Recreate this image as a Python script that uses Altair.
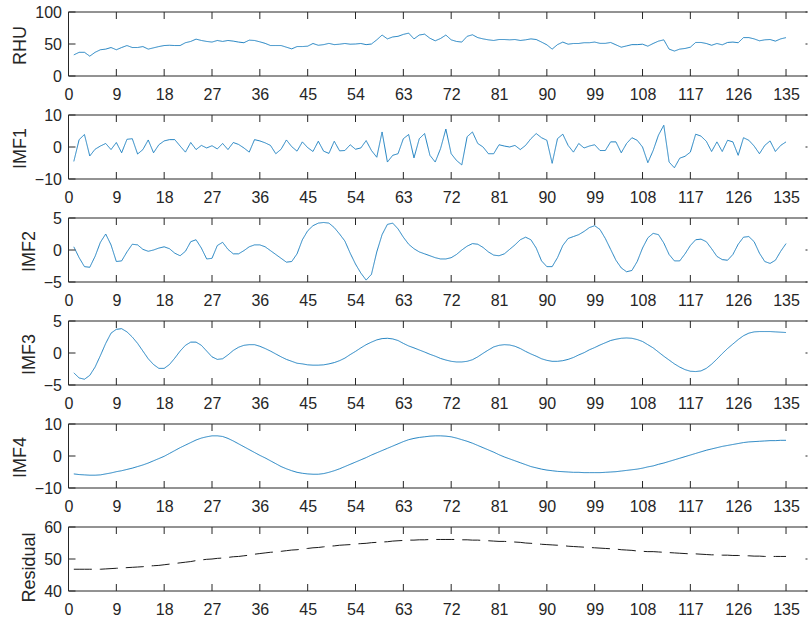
import altair as alt
import pandas as pd

t = list(range(1, 136))

rhu = [33, 37, 37, 31, 37, 41, 42, 44.5, 41, 44.5, 47.6, 44.5, 44.5, 46, 42, 44, 46, 47.6, 48, 47.6,
       47.6, 52, 54, 57.6, 55.5, 54, 53, 55.5, 54, 55.5, 54.5, 53, 52, 56, 55.5, 53.4, 51, 47.6, 47.6, 47.6,
       45, 42.4, 46, 46, 46.6, 50.8, 48, 49, 51, 49, 49.7, 50.8, 49.7, 50, 50.8, 49, 50, 56.5, 64, 58,
       61, 62, 65, 67, 58, 64, 65.4, 59, 55, 58.6, 64, 56.5, 54, 53, 62, 64.4, 60, 58, 56.5, 55.5,
       57, 57, 56.5, 57, 55.5, 56.5, 58, 57, 53, 48.7, 42, 49, 53, 49.7, 50.8, 50.8, 52, 52, 53, 51,
       51, 52.4, 48.7, 45, 47, 49, 49, 49.7, 46.6, 50.8, 54.5, 56.5, 42, 39, 42, 43, 45, 52.4, 52.4, 50.8,
       48, 50.8, 48.7, 52.4, 53, 52, 60, 60, 58, 55, 56.5, 57, 54.5, 58, 60]

imf1 = [-4.5, 2.3, 3.9, -2.8, -0.7, 0.3, 1.1, -0.8, 1.4, -1.8, 2.4, 2.6, -2.2, -0.8, 2.2, -1.8, 0.7, 1.9, 2.3, 2.3,
        0.3, -1.6, 1.4, -0.8, 0.5, -0.3, 0.4, -0.6, 1.1, -0.8, 1.4, 0.8, -0.3, -1.6, 2.3, 1.9, 1.3, 0.5, -2.1, -0.7,
        2.2, 0.1, -1.3, 1.6, -0.2, -1.4, 1.8, -1.3, -2.0, 1.8, -1.2, -1.1, 0.7, -0.7, -0.3, 2.0, -1.1, -3.2, 4.7, -4.7,
        -2.6, -2.1, 2.6, 3.9, -3.4, 2.6, 4.2, -2.6, -4.7, -0.5, 5.6, -2.1, -4.2, -5.6, 3.2, 4.7, 1.1, 0.0, -2.1, -2.1,
        0.7, 0.3, 0.0, 0.5, -0.8, 0.5, 2.6, 4.2, 2.9, 2.1, -5.1, 2.6, 4.0, 0.5, -1.6, 1.1, -0.3, 0.3, 0.7, -1.1,
        -1.1, 1.6, 1.6, -1.8, 1.1, 2.9, 2.1, 0.0, -4.9, -1.1, 3.7, 6.8, -4.7, -6.5, -3.5, -2.9, -1.6, 4.0, 3.4, 1.8,
        -1.4, 1.6, -1.4, 2.1, 1.6, -2.6, 2.9, 2.1, 0.3, -2.1, 0.5, 1.9, -1.4, 0.5, 1.6]

imf2 = [0.5, -1.2, -2.6, -2.7, -1.0, 1.2, 2.5, 0.8, -1.8, -1.7, -0.3, 0.9, 0.8, 0.1, -0.2, 0.0, 0.3, 0.5, 0.2, -0.5,
        -0.9, -0.2, 1.3, 1.6, 0.3, -1.4, -1.3, 0.7, 1.2, 0.1, -0.6, -0.6, -0.1, 0.5, 0.8, 0.8, 0.5, -0.1, -0.7, -1.3,
        -1.9, -1.8, -0.6, 1.6, 3.0, 3.8, 4.2, 4.3, 4.2, 3.5, 2.5, 1.4, -0.5, -2.2, -3.6, -4.7, -3.8, -0.3, 2.4, 4.0,
        4.2, 3.3, 2.0, 0.9, 0.2, -0.3, -0.6, -0.9, -1.2, -1.4, -1.4, -1.2, -0.7, 0.0, 0.6, 1.0, 0.9, 0.4, -0.3, -0.8,
        -0.9, -0.6, 0.1, 0.8, 1.6, 2.0, 1.6, 0.3, -1.7, -2.6, -2.6, -1.2, 0.7, 1.8, 2.1, 2.4, 2.9, 3.5, 3.8, 3.2,
        1.8, 0.1, -1.6, -2.8, -3.4, -3.2, -1.8, 0.3, 1.9, 2.6, 2.4, 1.1, -0.7, -1.7, -1.7, -0.6, 0.7, 1.6, 1.7, 1.3,
        0.2, -1.0, -1.5, -1.6, -0.7, 0.9, 2.0, 2.1, 1.3, -0.5, -1.8, -2.1, -1.6, -0.2, 1.0]

imf3 = [-3.1, -3.9, -4.1, -3.5, -2.2, -0.4, 1.5, 3.1, 3.7, 3.8, 3.3, 2.5, 1.5, 0.3, -0.9, -1.8, -2.4, -2.4, -1.8, -0.8,
        0.3, 1.2, 1.7, 1.7, 1.2, 0.3, -0.6, -1.0, -0.9, -0.3, 0.4, 0.9, 1.2, 1.3, 1.3, 1.05, 0.7, 0.3, -0.15, -0.6,
        -1.0, -1.3, -1.6, -1.7, -1.85, -1.9, -1.9, -1.85, -1.7, -1.5, -1.2, -0.8, -0.25, 0.25, 0.8, 1.3, 1.7, 2.05, 2.25, 2.3,
        2.2, 1.95, 1.5, 1.1, 0.8, 0.47, 0.15, -0.2, -0.5, -0.85, -1.1, -1.3, -1.4, -1.4, -1.3, -1.05, -0.6, -0.05, 0.47, 0.95,
        1.2, 1.3, 1.25, 1.05, 0.7, 0.25, -0.15, -0.5, -0.9, -1.15, -1.3, -1.3, -1.2, -1.0, -0.7, -0.3, 0.05, 0.5, 0.85, 1.25,
        1.6, 1.95, 2.15, 2.3, 2.35, 2.3, 2.1, 1.8, 1.3, 0.8, 0.15, -0.5, -1.1, -1.7, -2.2, -2.6, -2.85, -2.9, -2.8, -2.4,
        -1.75, -0.95, -0.1, 0.7, 1.4, 2.1, 2.7, 3.1, 3.3, 3.35, 3.35, 3.35, 3.3, 3.25, 3.2]

imf4 = [-5.6, -5.8, -5.9, -6.0, -6.0, -5.9, -5.6, -5.3, -4.9, -4.6, -4.2, -3.8, -3.3, -2.8, -2.2, -1.5, -0.8, -0.1, 0.8, 1.7,
        2.6, 3.4, 4.2, 5.0, 5.6, 6.0, 6.3, 6.3, 6.1, 5.5, 4.7, 3.8, 2.9, 2.0, 1.1, 0.2, -0.6, -1.5, -2.4, -3.3,
        -4.0, -4.6, -5.1, -5.4, -5.6, -5.7, -5.7, -5.5, -5.1, -4.6, -4.0, -3.3, -2.6, -1.9, -1.2, -0.5, 0.3, 1.0, 1.7, 2.4,
        3.1, 3.8, 4.5, 5.1, 5.5, 5.8, 6.0, 6.2, 6.3, 6.3, 6.2, 6.0, 5.6, 5.1, 4.6, 4.0, 3.3, 2.6, 1.9, 1.2,
        0.4, -0.3, -0.9, -1.5, -2.1, -2.7, -3.3, -3.7, -4.1, -4.4, -4.6, -4.8, -4.9, -5.0, -5.1, -5.1, -5.2, -5.2, -5.2, -5.2,
        -5.1, -5.0, -4.9, -4.7, -4.5, -4.3, -4.1, -3.8, -3.4, -3.1, -2.6, -2.2, -1.7, -1.2, -0.7, -0.2, 0.3, 0.8, 1.3, 1.8,
        2.2, 2.6, 3.0, 3.3, 3.6, 3.9, 4.2, 4.4, 4.5, 4.6, 4.7, 4.8, 4.8, 4.9, 4.9]

residual = [46.8, 46.8, 46.8, 46.8, 46.8, 46.8, 46.9, 47.0, 47.1, 47.2, 47.3, 47.4, 47.5, 47.6, 47.8, 47.9, 48.0, 48.2, 48.4, 48.6,
            48.8, 49.0, 49.2, 49.5, 49.7, 49.9, 50.0, 50.2, 50.3, 50.5, 50.7, 50.8, 51.0, 51.2, 51.5, 51.7, 51.9, 52.1, 52.2, 52.4,
            52.6, 52.8, 52.9, 53.1, 53.3, 53.5, 53.6, 53.8, 54.0, 54.1, 54.3, 54.4, 54.5, 54.7, 54.8, 54.9, 55.1, 55.2, 55.3, 55.4,
            55.6, 55.7, 55.8, 55.9, 55.9, 56.0, 56.0, 56.1, 56.1, 56.1, 56.1, 56.1, 56.1, 56.0, 56.0, 55.9, 55.9, 55.8, 55.7, 55.6,
            55.5, 55.5, 55.4, 55.3, 55.2, 55.0, 54.9, 54.8, 54.6, 54.5, 54.4, 54.3, 54.2, 54.0, 53.9, 53.8, 53.7, 53.6, 53.5, 53.4,
            53.3, 53.2, 53.1, 52.9, 52.8, 52.7, 52.5, 52.4, 52.3, 52.3, 52.2, 52.1, 52.0, 51.9, 51.8, 51.7, 51.6, 51.6, 51.5, 51.4,
            51.3, 51.3, 51.2, 51.2, 51.1, 51.1, 51.0, 51.0, 50.9, 50.9, 50.8, 50.8, 50.8, 50.8, 50.8]

x_ticks = list(range(0, 136, 9))

panels = [
    ("RHU", rhu, [0, 100], [0, 50, 100]),
    ("IMF1", imf1, [-10, 10], [-10, 0, 10]),
    ("IMF2", imf2, [-5, 5], [-5, 0, 5]),
    ("IMF3", imf3, [-5, 5], [-5, 0, 5]),
    ("IMF4", imf4, [-10, 10], [-10, 0, 10]),
    ("Residual", residual, [40, 60], [40, 50, 60]),
]

W = 739
H = 64
XMAX = 139.04
AX = "#262626"
FONT = "Liberation Sans"
BLUE = "#1f80c0"


def panel(name, vals, dom, yt):
    df = pd.DataFrame({"t": t, "v": vals})
    xs = alt.Scale(domain=[0, XMAX], nice=False, zero=False)
    ys = alt.Scale(domain=dom, nice=False, zero=False)
    xax = alt.Axis(values=x_ticks, title="", labelFlush=False, labelOverlap=False,
                   labelBound=False, ticks=False, domain=False, grid=False,
                   labelFontSize=16, labelPadding=10, labelColor=AX, labelFont=FONT)
    dashed = name == "Residual"
    yax = alt.Axis(values=yt, title=name, ticks=False, domain=False, grid=False,
                   labelFontSize=16, labelPadding=7, labelColor=AX, labelFont=FONT,
                   titleFontSize=18, titleFontWeight="normal", titleColor=AX,
                   titleFont=FONT, titlePadding=5,
                   titleY=H / 2 + (8 if dashed else 1))
    line = alt.Chart(df).mark_line(
        color="#1a1a1a" if dashed else BLUE,
        strokeWidth=1,
        strokeDash=[18, 8] if dashed else [1, 0],
        clip=True,
    ).encode(
        x=alt.X("t:Q", scale=xs, axis=xax),
        y=alt.Y("v:Q", scale=ys, axis=yax),
    )
    xt = pd.DataFrame({"t": x_ticks})
    ytd = pd.DataFrame({"v": yt})
    one = pd.DataFrame({"a": [0]})
    bot_ticks = alt.Chart(xt).mark_rule(color=AX, strokeWidth=1).encode(
        x=alt.X("t:Q", scale=xs, axis=xax), y=alt.value(H), y2=alt.value(H - 7))
    top_ticks = alt.Chart(xt).mark_rule(color=AX, strokeWidth=1).encode(
        x=alt.X("t:Q", scale=xs, axis=xax), y=alt.value(0), y2=alt.value(7))
    left_ticks = alt.Chart(ytd).mark_rule(color=AX, strokeWidth=1).encode(
        y=alt.Y("v:Q", scale=ys, axis=yax), x=alt.value(0), x2=alt.value(7))
    right_ticks = alt.Chart(ytd).mark_rule(color=AX, strokeWidth=1).encode(
        y=alt.Y("v:Q", scale=ys, axis=yax), x=alt.value(W - 2), x2=alt.value(W))
    f_top = alt.Chart(one).mark_rule(color=AX, strokeWidth=1).encode(
        x=alt.value(0), x2=alt.value(W), y=alt.value(0))
    f_bot = alt.Chart(one).mark_rule(color=AX, strokeWidth=1).encode(
        x=alt.value(0), x2=alt.value(W), y=alt.value(H))
    f_left = alt.Chart(one).mark_rule(color=AX, strokeWidth=1).encode(
        x=alt.value(0), y=alt.value(0), y2=alt.value(H))
    return alt.layer(line, bot_ticks, top_ticks, left_ticks, right_ticks,
                     f_top, f_bot, f_left).properties(width=W, height=H)


chart = alt.vconcat(*[panel(*p) for p in panels], spacing=39, bounds="flush").properties(
    padding={"left": 10.5, "top": 4, "right": 0, "bottom": 0},
    background="white",
).configure_view(stroke=None)

chart.save("out.html", embed_options={"renderer": "svg", "actions": False})
